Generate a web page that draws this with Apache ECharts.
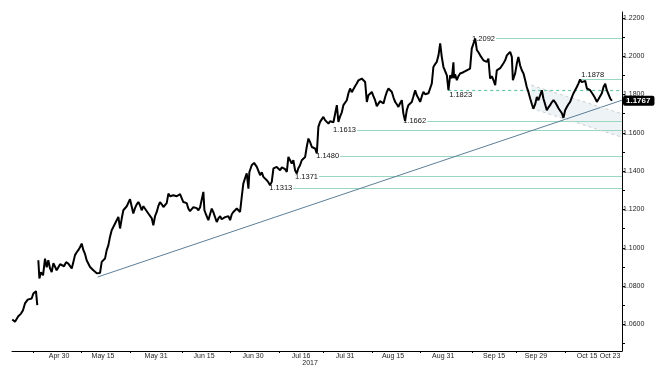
<!DOCTYPE html>
<html><head><meta charset="utf-8">
<script src="https://cdn.jsdelivr.net/npm/echarts@6/dist/echarts.min.js"></script>
<style>html,body{margin:0;padding:0;background:#fff}#c{width:660px;height:371px}</style>
</head><body><div id="c"></div>
<script>
// time stamps ('MM-DD HH', 2017) and closing prices
const times = ['04-15 03','04-16 00','04-17 01','04-17 22','04-18 13','04-19 04','04-20 01','04-20 15','04-21 07','04-21 20','04-22 16','04-23 02','04-23 06','04-23 10','04-23 18','04-24 06','04-24 22','04-25 13','04-26 02','04-26 14','04-27 03','04-27 16','04-28 05','04-28 17','04-29 06','04-29 19','04-30 08','04-30 23','05-01 14','05-02 06','05-02 23','05-03 12','05-04 01','05-04 13','05-05 02','05-05 15','05-06 03','05-06 16','05-07 05','05-07 18','05-08 07','05-08 19','05-09 08','05-09 21','05-10 10','05-10 22','05-11 11','05-12 00','05-12 12','05-13 01','05-13 14','05-14 02','05-14 15','05-15 04','05-15 17','05-16 05','05-16 18','05-17 07','05-17 20','05-18 09','05-18 21','05-19 10','05-19 23','05-20 11','05-21 00','05-21 13','05-22 01','05-22 14','05-23 03','05-23 15','05-24 04','05-24 17','05-25 06','05-25 18','05-26 07','05-26 20','05-27 09','05-27 22','05-28 10','05-28 23','05-29 12','05-30 00','05-30 13','05-31 02','05-31 14','06-01 03','06-01 16','06-02 05','06-02 18','06-03 06','06-03 19','06-04 08','06-04 21','06-05 09','06-05 22','06-06 11','06-06 23','06-07 12','06-08 01','06-08 13','06-09 02','06-09 15','06-10 03','06-10 16','06-11 05','06-11 18','06-12 07','06-12 19','06-13 08','06-13 21','06-14 10','06-14 22','06-15 06','06-15 18','06-16 12','06-17 01','06-17 14','06-18 02','06-18 15','06-19 04','06-19 17','06-20 06','06-20 18','06-21 07','06-21 20','06-22 09','06-22 21','06-23 10','06-23 23','06-24 11','06-25 00','06-25 13','06-26 01','06-26 14','06-27 03','06-27 15','06-28 04','06-28 17','06-29 06','06-29 13','06-30 07','07-01 01','07-01 22','07-02 10','07-02 23','07-03 12','07-04 00','07-04 13','07-05 02','07-05 14','07-06 03','07-06 16','07-07 05','07-07 18','07-08 06','07-08 19','07-09 08','07-09 21','07-10 09','07-10 22','07-11 11','07-11 23','07-12 12','07-13 01','07-13 13','07-14 02','07-14 15','07-15 03','07-15 16','07-16 05','07-16 18','07-17 07','07-17 19','07-18 08','07-18 21','07-19 10','07-19 22','07-20 11','07-21 00','07-21 12','07-22 01','07-22 14','07-23 02','07-23 15','07-24 04','07-24 17','07-25 05','07-25 18','07-26 07','07-26 20','07-27 09','07-27 21','07-28 10','07-28 23','07-29 11','07-30 00','07-30 13','07-31 01','07-31 14','08-01 03','08-01 15','08-02 04','08-02 17','08-03 06','08-03 18','08-04 07','08-04 20','08-05 09','08-05 22','08-06 10','08-06 23','08-07 12','08-08 00','08-08 13','08-09 02','08-09 14','08-10 03','08-10 16','08-11 05','08-11 18','08-12 06','08-12 19','08-13 08','08-13 21','08-14 09','08-14 22','08-15 11','08-15 23','08-16 12','08-17 01','08-17 13','08-18 02','08-18 15','08-19 03','08-19 16','08-20 05','08-20 18','08-21 07','08-21 19','08-22 08','08-22 21','08-23 10','08-23 22','08-24 11','08-25 00','08-25 12','08-26 01','08-26 14','08-27 02','08-27 15','08-28 04','08-28 17','08-29 06','08-29 18','08-30 07','08-30 20','08-31 09','08-31 21','09-01 10','09-01 23','09-02 11','09-02 16','09-03 00','09-03 13','09-04 01','09-04 14','09-05 03','09-05 15','09-06 04','09-06 17','09-07 06','09-07 18','09-08 07','09-08 20','09-09 09','09-09 22','09-10 10','09-10 23','09-11 12','09-12 00','09-12 13','09-13 02','09-13 14','09-14 03','09-14 16','09-15 05','09-15 18','09-16 06','09-16 19','09-17 08','09-17 21','09-18 09','09-18 22','09-19 11','09-19 23','09-20 12','09-21 01','09-21 09','09-22 02','09-22 15','09-23 03','09-23 16','09-24 05','09-24 18','09-25 07','09-25 19','09-26 08','09-26 21','09-27 10','09-27 22','09-28 11','09-29 00','09-29 12','09-30 01','09-30 14','10-01 02','10-01 15','10-02 04','10-02 17','10-03 05','10-03 18','10-04 07','10-04 20','10-05 09','10-05 21','10-06 10','10-06 23','10-07 11','10-08 00','10-08 13','10-09 01','10-09 14','10-10 03','10-10 15','10-11 04','10-11 17','10-12 06','10-12 18','10-13 07','10-13 20','10-14 09','10-14 22','10-15 10','10-15 23','10-16 12','10-17 00','10-17 13','10-18 02','10-18 14','10-19 03','10-19 16','10-20 05','10-20 18','10-21 06','10-21 19','10-22 08','10-22 21'];
const prices = [1.0626,1.0614,1.0643,1.0657,1.0675,1.0710,1.0730,1.0722,1.0736,1.0762,1.0774,1.0701,null,1.0935,1.0840,1.0873,1.0857,1.0944,1.0899,1.0935,1.0894,1.0874,1.0920,1.0927,1.0883,1.0874,1.0915,1.0925,1.0904,1.0925,1.0918,1.0925,1.0892,1.0925,1.0962,1.0977,1.0988,1.1003,1.1022,1.0988,1.0967,1.0935,1.0925,1.0900,1.0909,1.0883,1.0889,1.0868,1.0868,1.0869,1.0927,1.0935,1.0944,1.0988,1.1014,1.1057,1.1092,1.1102,1.1127,1.1134,1.1161,1.1101,1.1154,1.1196,1.1186,1.1217,1.1227,1.1254,1.1264,1.1179,1.1207,1.1227,1.1239,1.1222,1.1196,1.1217,1.1222,1.1191,1.1179,1.1175,1.1154,1.1118,1.1165,1.1187,1.1217,1.1239,1.1227,1.1213,1.1222,1.1233,1.1283,1.1269,1.1259,1.1274,1.1283,1.1269,1.1264,1.1280,1.1283,1.1239,1.1248,1.1233,1.1205,1.1191,1.1196,1.1212,1.1213,1.1207,1.1196,1.1212,1.1213,1.1292,1.1196,1.1175,1.1144,1.1175,1.1205,1.1186,1.1191,1.1135,1.1154,1.1165,1.1149,1.1144,1.1160,1.1154,1.1165,1.1144,1.1175,1.1187,1.1196,1.1205,1.1196,1.1187,1.1266,1.1335,1.1363,1.1388,1.1309,1.1394,1.1431,1.1443,1.1422,1.1414,1.1379,1.1394,1.1370,1.1363,1.1353,1.1342,1.1327,1.1344,1.1414,1.1405,1.1422,1.1415,1.1405,1.1420,1.1414,1.1410,1.1396,1.1474,1.1483,1.1440,1.1457,1.1405,1.1388,1.1415,1.1431,1.1457,1.1467,1.1474,1.1526,1.1570,1.1551,1.1526,1.1535,1.1518,1.1492,1.1631,1.1657,1.1666,1.1683,1.1666,1.1660,1.1648,1.1660,1.1666,1.1655,1.1648,1.1744,1.1657,1.1686,1.1707,1.1744,1.1739,1.1770,1.1805,1.1831,1.1812,1.1822,1.1843,1.1857,1.1874,1.1864,1.1883,1.1890,1.1865,1.1761,1.1796,1.1806,1.1813,1.1791,1.1770,1.1739,1.1735,1.1765,1.1770,1.1753,1.1787,1.1812,1.1831,1.1822,1.1813,1.1785,1.1761,1.1749,1.1735,1.1754,1.1770,1.1700,1.1662,1.1718,1.1744,1.1749,1.1761,1.1791,1.1822,1.1796,1.1780,1.1761,1.1791,1.1813,1.1801,1.1796,1.1806,1.1796,1.1857,1.1943,1.1958,1.1970,1.2004,1.2066,1.1996,1.1943,1.1921,1.1900,1.1823,1.1900,1.1885,1.1968,1.1885,1.1905,1.1874,1.1895,1.1909,1.1900,1.1916,1.1911,1.1926,1.1921,1.1935,1.2039,1.2048,1.2092,1.2031,1.2020,1.2004,1.1994,1.1978,1.1984,1.1970,1.1987,1.1883,1.1895,1.1874,1.1848,1.1926,1.1916,1.1937,1.1947,1.1963,1.1978,1.2004,1.1999,1.2022,1.1996,1.1874,1.1909,1.1961,1.1996,1.1952,1.1926,1.1909,1.1874,1.1839,1.1812,1.1779,1.1749,1.1726,1.1749,1.1787,1.1770,1.1796,1.1822,1.1779,1.1749,1.1718,1.1733,1.1744,1.1759,1.1770,1.1759,1.1744,1.1728,1.1718,1.1702,1.1678,1.1718,1.1735,1.1749,1.1761,1.1785,1.1805,1.1822,1.1839,1.1858,1.1878,1.1864,1.1857,1.1871,1.1831,1.1832,1.1822,1.1812,1.1796,1.1780,1.1761,1.1775,1.1770,1.1806,1.1839,1.1856,1.1822,1.1801,1.1779,1.1767];

// support / resistance levels
const levelValues  = [1.2092, 1.1878, 1.1823, 1.1662, 1.1613, 1.1480, 1.1371, 1.1313];
const levelStarts  = ['09-16 00','10-12 19','08-31 19','08-25 02','08-02 19','07-28 10','07-21 17','07-13 12'];
const levelDashed  = [false, false, true, false, false, false, false, false];
const levelLabelAt = ['start','insideStartTop','insideStartBottom','start','start','start','start','start'];

// trend line and falling channel
const trendLine     = [['05-12 07', 1.0848], ['10-26 02', 1.1770]];
const channelUpper  = [['09-27 05', 1.1848], ['10-26 02', 1.1699]];
const channelLower  = [['09-27 05', 1.1728], ['10-26 02', 1.1577]];
const lastPrice = 1.1767;

// axes
const xRange = ['04-15 01', '10-26 02'];
const xLabelAt    = ['04-30 00','05-14 00','05-30 21','06-15 03','06-30 17','07-16 00','07-30 00','08-14 06','08-30 05','09-15 10','09-28 17','10-15 00','10-22 07'];
const xLabelNames = ['Apr 30','May 15','May 31','Jun 15','Jun 30','Jul 16','Jul 31','Aug 15','Aug 31','Sep 15','Sep 29','Oct 15','Oct 23'];
const xTickAt     = ['04-21 17','05-07 00','05-22 14','06-08 03','06-23 10','07-09 00','07-23 00','08-07 14','08-22 21','09-08 10','09-22 10','10-08 00'];
const yearLabelAt = '07-18 21';
const yRange = [1.0462, 1.2230];
const yLabelValues = [1.06,1.08,1.10,1.12,1.14,1.16,1.18,1.20,1.22];
const yTickValues = [1.05,1.06,1.07,1.08,1.09,1.10,1.11,1.12,1.13,1.14,1.15,1.16,1.17,1.18,1.19,1.20,1.21,1.22];

const T = s => Date.UTC(2017, +s.slice(0,2) - 1, +s.slice(3,5), +s.slice(6,8));
const FONT = 'Liberation Sans';
const xMin = T(xRange[0]), xMax = T(xRange[1]);
const xLabelTs = xLabelAt.map(T);

const priceData = times.map((t, i) => [T(t), prices[i] == null ? '-' : prices[i]]);

const levelLines = levelValues.map((v, i) => [
  { coord: [T(levelStarts[i]), v],
    lineStyle: { color: levelDashed[i] ? '#66c7a4' : '#9ad7c0', width: levelDashed[i] ? 1.2 : 1, type: levelDashed[i] ? [3, 3] : 'solid' },
    label: { show: true, position: levelLabelAt[i], distance: 1, formatter: v.toFixed(4), color: '#111', fontSize: 7.5, fontFamily: FONT } },
  { coord: [xMax, v] }
]);
const toCoord = p => ({ coord: [T(p[0]), p[1]] });
const otherLines = [
  [Object.assign(toCoord(trendLine[0]), { lineStyle: { color: '#5b7f99', width: 1, type: 'solid' } }), toCoord(trendLine[1])],
  [Object.assign(toCoord(channelUpper[0]), { lineStyle: { color: '#c9cfd3', width: 1, type: [3, 3] } }), toCoord(channelUpper[1])],
  [Object.assign(toCoord(channelLower[0]), { lineStyle: { color: '#c9cfd3', width: 1, type: [3, 3] } }), toCoord(channelLower[1])],
  [{ coord: [T(times[times.length - 1]), lastPrice], lineStyle: { color: 'rgba(0,0,0,0)', width: 1 },
     label: { show: true, position: 'end', distance: 1, formatter: lastPrice.toFixed(4), color: '#fff', backgroundColor: '#000',
              fontWeight: 'bold', fontSize: 8, fontFamily: FONT, padding: [1, 4, 1, 3], borderRadius: 2 } },
   { coord: [xMax, lastPrice] }]
];

const channelPoly = channelUpper.concat(channelLower.slice().reverse()).map(p => [T(p[0]), p[1]]);

const chart = echarts.init(document.getElementById('c'), null, { renderer: 'canvas' });
chart.setOption({
  animation: false,
  backgroundColor: '#fff',
  grid: { left: 12, right: 38, top: 12, bottom: 20, containLabel: false, outerBoundsMode: 'none' },
  xAxis: [{
    type: 'value', min: xMin, max: xMax, position: 'bottom',
    splitLine: { show: false },
    axisLine: { show: true, lineStyle: { color: '#000', width: 1 } },
    axisTick: { show: true, length: 2, customValues: xTickAt.map(T), lineStyle: { color: '#000' } },
    axisLabel: { customValues: xLabelTs, margin: 2, fontSize: 7, fontFamily: FONT, color: '#222',
      formatter: v => { const i = xLabelTs.indexOf(v); return i >= 0 ? xLabelNames[i] : ''; } }
  }, {
    type: 'value', min: xMin, max: xMax, position: 'bottom',
    splitLine: { show: false }, axisLine: { show: false }, axisTick: { show: false },
    axisLabel: { customValues: [T(yearLabelAt)], margin: 9, fontSize: 7, fontFamily: FONT, color: '#222', formatter: () => '2017' }
  }],
  yAxis: {
    type: 'value', position: 'right', min: yRange[0], max: yRange[1],
    splitLine: { show: false },
    axisLine: { show: true, lineStyle: { color: '#000', width: 1 } },
    axisTick: { show: true, length: 3, customValues: yTickValues, lineStyle: { color: '#000' } },
    axisLabel: { customValues: yLabelValues, margin: 1, fontSize: 7, fontFamily: FONT, color: '#222', formatter: v => v.toFixed(4) }
  },
  series: [{
    type: 'custom', xAxisIndex: 0, z: 1, silent: true,
    data: channelPoly,
    renderItem: (params, api) => {
      if (params.dataIndex !== 0) return;
      return { type: 'polygon', shape: { points: channelPoly.map(p => api.coord(p)) }, style: { fill: '#eef3f6' } };
    }
  }, {
    type: 'line', xAxisIndex: 0, z: 3, data: priceData, showSymbol: false, connectNulls: false,
    lineStyle: { color: '#000', width: 2 },
    markLine: { silent: true, symbol: ['none', 'none'], z: 2, data: levelLines.concat(otherLines) }
  }]
});
</script></body></html>
